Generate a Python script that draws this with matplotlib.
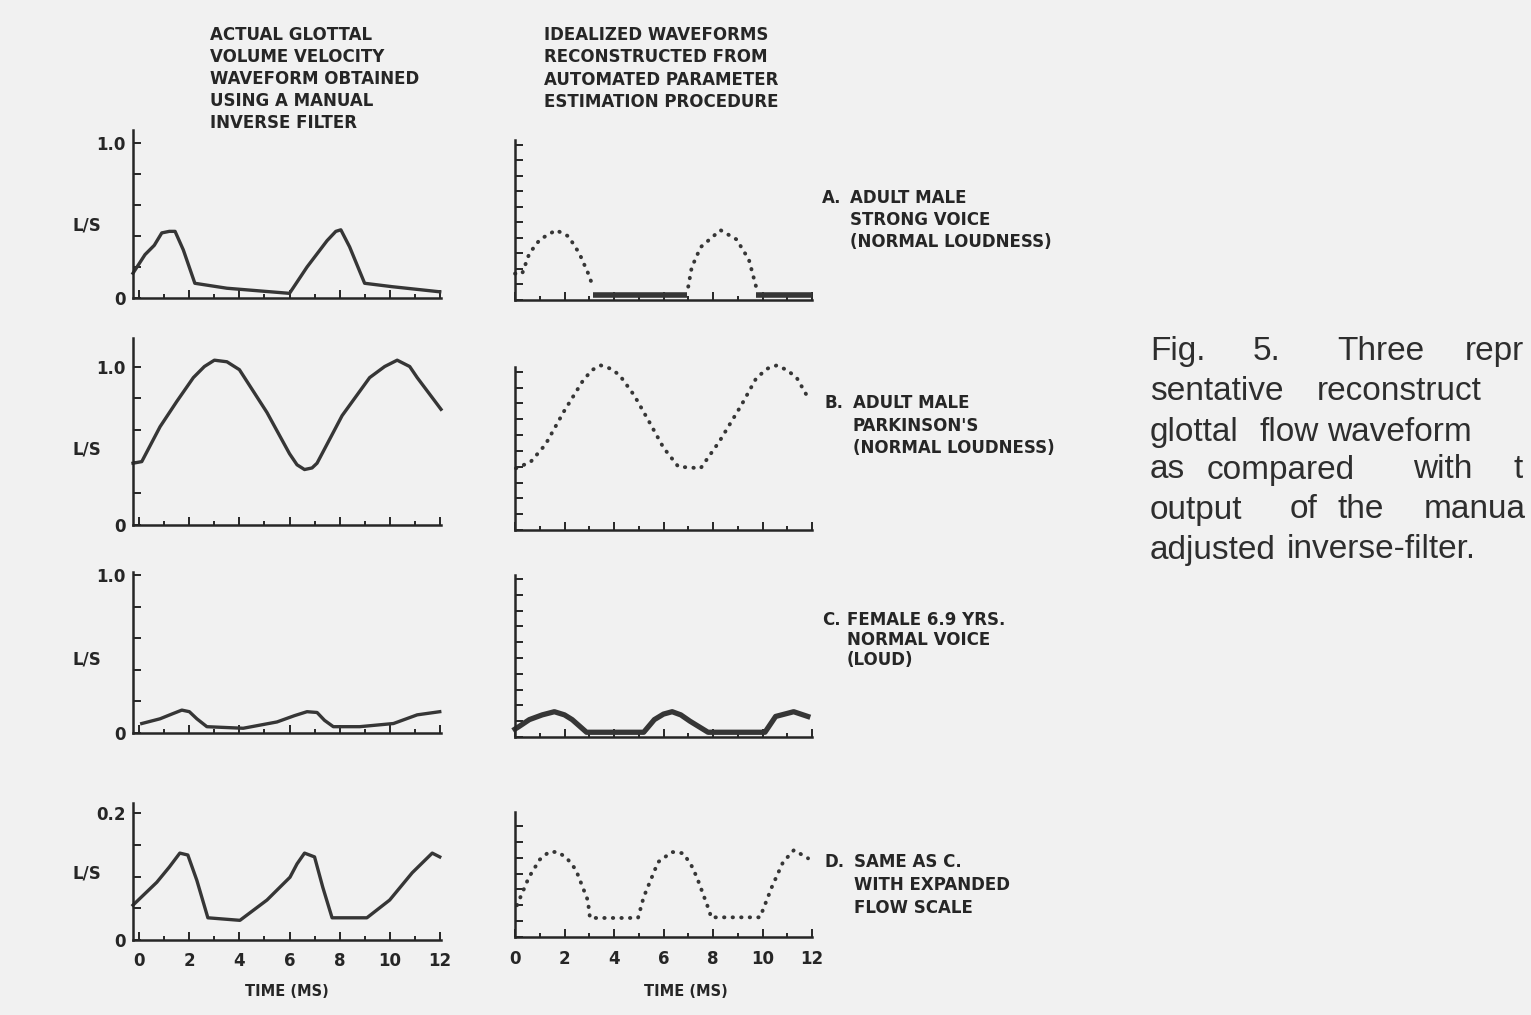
import matplotlib
matplotlib.use("Agg")
import matplotlib.pyplot as plt
from matplotlib.ticker import MultipleLocator, FixedLocator

W, H = 1531, 1015
BG = '#f1f1f1'
INK = '#262626'
CURVE = '#363636'

# ---------------- data ----------------
time_ticks = [0, 2, 4, 6, 8, 10, 12]
time_tick_labels = ['0', '2', '4', '6', '8', '10', '12']

# A. adult male, strong voice
a_manual_t = [-0.25, 0.23, 0.6, 0.9, 1.2, 1.43, 1.76, 2.22, 3.5, 6.0, 6.7, 7.5, 7.85, 8.05, 8.4, 9.0, 10.1, 12.0]
a_manual_v = [0.16, 0.28, 0.34, 0.42, 0.43, 0.43, 0.31, 0.095, 0.063, 0.03, 0.2, 0.37, 0.43, 0.44, 0.33, 0.095, 0.073, 0.04]
a_ideal1_t = [0.0, 0.29, 0.58, 1.01, 1.66, 2.16, 2.6, 2.96, 3.15]
a_ideal1_v = [0.17, 0.17, 0.30, 0.39, 0.45, 0.41, 0.30, 0.17, 0.086]
a_ideal2_t = [7.0, 7.14, 7.5, 8.3, 8.95, 9.45, 9.74]
a_ideal2_v = [0.086, 0.21, 0.34, 0.45, 0.39, 0.26, 0.086]
a_ideal_flat_t = [[3.15, 6.95], [9.75, 12.0]]
a_ideal_flat_v = 0.03

# B. adult male, Parkinson's
b_manual_t = [-0.25, 0.1, 0.83, 1.5, 2.16, 2.6, 3.0, 3.5, 4.0, 5.1, 6.0, 6.3, 6.6, 6.9, 7.1, 8.1, 9.2, 9.8, 10.3, 10.8, 11.1, 12.05]
b_manual_v = [0.39, 0.40, 0.62, 0.78, 0.93, 1.00, 1.04, 1.03, 0.98, 0.71, 0.45, 0.38, 0.35, 0.36, 0.39, 0.69, 0.93, 1.00, 1.04, 1.00, 0.93, 0.73]
b_ideal_t = [0.04, 0.63, 1.23, 1.98, 2.73, 3.1, 3.47, 3.85, 4.22, 4.82, 5.4, 6.0, 6.6, 7.5, 8.26, 9.15, 9.75, 10.2, 10.57, 11.0, 11.39, 11.9]
b_ideal_v = [0.39, 0.43, 0.54, 0.75, 0.94, 1.01, 1.04, 1.02, 0.98, 0.85, 0.69, 0.52, 0.40, 0.39, 0.56, 0.79, 0.96, 1.02, 1.04, 1.01, 0.96, 0.82]

# C. female 6.9 yrs, normal voice (loud)
c_manual_t = [0.1, 0.83, 1.3, 1.7, 2.0, 2.3, 2.7, 4.15, 5.5, 6.2, 6.7, 7.1, 7.4, 7.75, 8.8, 10.15, 11.1, 12.0]
c_manual_v = [0.06, 0.09, 0.12, 0.145, 0.135, 0.09, 0.04, 0.03, 0.07, 0.11, 0.135, 0.13, 0.08, 0.04, 0.04, 0.06, 0.115, 0.135]
c_ideal_t = [0.0, 0.15, 0.58, 1.1, 1.59, 2.0, 2.31, 2.89, 5.2, 5.63, 6.0, 6.35, 6.7, 7.07, 7.8, 10.1, 10.53, 11.26, 11.83]
c_ideal_v = [0.05, 0.065, 0.11, 0.14, 0.16, 0.14, 0.11, 0.03, 0.03, 0.11, 0.145, 0.16, 0.14, 0.10, 0.03, 0.03, 0.13, 0.16, 0.13]

# D. same as C with expanded flow scale
d_manual_t = [-0.25, 0.7, 1.2, 1.62, 1.94, 2.3, 2.74, 4.02, 5.1, 6.02, 6.3, 6.6, 7.0, 7.33, 7.7, 9.09, 10.0, 10.9, 11.7, 12.0]
d_manual_v = [0.055, 0.091, 0.115, 0.137, 0.134, 0.094, 0.035, 0.031, 0.063, 0.099, 0.12, 0.137, 0.131, 0.083, 0.035, 0.035, 0.063, 0.106, 0.137, 0.131]
d_ideal_t = [0.08, 0.56, 1.0, 1.37, 1.74, 2.1, 2.46, 2.94, 3.03, 4.97, 5.2, 5.78, 6.34, 6.79, 7.1, 7.35, 7.88, 7.9, 9.9, 10.38, 10.83, 11.27, 11.84]
d_ideal_v = [0.050, 0.094, 0.122, 0.134, 0.134, 0.124, 0.106, 0.058, 0.030, 0.030, 0.063, 0.118, 0.134, 0.132, 0.115, 0.094, 0.038, 0.031, 0.031, 0.079, 0.118, 0.137, 0.124]

left_title = ['ACTUAL GLOTTAL', 'VOLUME VELOCITY', 'WAVEFORM OBTAINED',
              'USING A MANUAL', 'INVERSE FILTER']
right_title = ['IDEALIZED WAVEFORMS', 'RECONSTRUCTED FROM',
               'AUTOMATED PARAMETER', 'ESTIMATION PROCEDURE']
panel_letters = ['A.', 'B.', 'C.', 'D.']
panel_labels = [['ADULT MALE', 'STRONG VOICE', '(NORMAL LOUDNESS)'],
                ['ADULT MALE', "PARKINSON'S", '(NORMAL LOUDNESS)'],
                ['FEMALE 6.9 YRS.', 'NORMAL VOICE', '(LOUD)'],
                ['SAME AS C.', 'WITH EXPANDED', 'FLOW SCALE']]
y_top_labels = ['1.0', '1.0', '1.0', '0.2']
caption_lines = [
    [('Fig.', 1150), ('5.', 1253), ('Three', 1337), ('repr', 1465)],
    [('sentative', 1150), ('reconstruct', 1317)],
    [('glottal', 1150), ('flow', 1260), ('waveform', 1327)],
    [('as', 1150), ('compared', 1207), ('with', 1413), ('t', 1514)],
    [('output', 1150), ('of', 1290), ('the', 1337), ('manua', 1424)],
    [('adjusted', 1150), ('inverse-filter.', 1287)],
]

# ---------------- figure ----------------
fig = plt.figure(figsize=(W / 100, H / 100), dpi=100, facecolor=BG)


def px_axes(x0, x1, ybot, ytop):
    ax = fig.add_axes([x0 / W, 1 - ybot / H, (x1 - x0) / W, (ybot - ytop) / H])
    ax.set_facecolor('none')
    for s in ('top', 'right'):
        ax.spines[s].set_visible(False)
    for s in ('left', 'bottom'):
        ax.spines[s].set_linewidth(1.8)
        ax.spines[s].set_color(INK)
    ax.xaxis.set_major_locator(FixedLocator(time_ticks))
    ax.xaxis.set_minor_locator(MultipleLocator(1))
    ax.tick_params(axis='both', which='both', direction='in', color=INK, width=1.4)
    ax.tick_params(axis='both', which='major', length=6)
    ax.tick_params(axis='both', which='minor', length=3)
    return ax


def ftext(px, py, s, **kw):
    fig.text(px / W, 1 - py / H, s, **kw)


TXT = dict(color=INK, fontweight='bold', fontsize=12, family='DejaVu Sans')

left_x = (133, 441, -0.25, 12.05)
right_x = (515, 812, 0.0, 12.0)
rows = [  # (left ybot, ytop, ymax), (right ybot, ytop, ymax)
    ((298, 130, 1.084), (300, 140, 1.03)),
    ((525, 338, 1.18), (530, 367, 1.03)),
    ((733, 572, 1.02), (737, 575, 1.025)),
    ((940, 803, 0.216), (937, 812, 0.197)),
]
manual = [(a_manual_t, a_manual_v), (b_manual_t, b_manual_v),
          (c_manual_t, c_manual_v), (d_manual_t, d_manual_v)]
ideal = [[(a_ideal1_t, a_ideal1_v), (a_ideal2_t, a_ideal2_v)],
         [(b_ideal_t, b_ideal_v)],
         [(c_ideal_t, c_ideal_v)],
         [(d_ideal_t, d_ideal_v)]]
ls_y = [225, 450, 659, 874]
label_y = [(198, 220, 242), (403, 426, 448), (620, 640, 660), (862, 885, 908)]
label_x = [(822, 850), (825, 853), (822, 847), (824, 854)]

DOT = dict(color=CURVE, lw=2.8, linestyle=(0, (0.1, 2.1)), dash_capstyle='round',
           clip_on=False)

for i, ((lb, lt, lmax), (rb, rt, rmax)) in enumerate(rows):
    # left panel (manual inverse filter)
    axl = px_axes(left_x[0], left_x[1], lb, lt)
    axl.set_xlim(left_x[2], left_x[3])
    axl.set_ylim(0, lmax)
    t, v = manual[i]
    axl.plot(t, v, color=CURVE, lw=2.4, clip_on=False, solid_joinstyle='round')
    top = 0.2 if i == 3 else 1.0
    step = 0.05 if i == 3 else 0.2
    n = int(round(top / step))
    yt = [k * step for k in range(n + 1)]
    axl.set_yticks(yt)
    axl.set_yticklabels(['0'] + [''] * (n - 1) + [y_top_labels[i]])
    for lab in axl.get_yticklabels():
        lab.set_fontweight('bold')
        lab.set_fontsize(12)
        lab.set_color(INK)
    axl.tick_params(axis='y', pad=5)
    ftext(87, ls_y[i], 'L/S', ha='center', va='center', **TXT)

    # right panel (idealized reconstruction)
    axr = px_axes(right_x[0], right_x[1], rb, rt)
    axr.set_xlim(right_x[2], right_x[3])
    axr.set_ylim(0, rmax)
    axr.yaxis.set_major_locator(MultipleLocator(0.025 if i == 3 else 0.1))
    axr.set_yticklabels([])
    for t, v in ideal[i]:
        if i == 2:
            axr.plot(t, v, color=CURVE, lw=3.8, clip_on=False, solid_joinstyle='round')
        else:
            axr.plot(t, v, **DOT)
    if i == 0:
        for seg in a_ideal_flat_t:
            axr.plot(seg, [a_ideal_flat_v, a_ideal_flat_v], color=CURVE, lw=4.0,
                     solid_capstyle='butt')

    for ax in (axl, axr):
        if i == 3:
            ax.set_xticklabels(time_tick_labels)
            ax.tick_params(axis='x', pad=9)
            for lab in ax.get_xticklabels():
                lab.set_fontweight('bold')
                lab.set_fontsize(12)
                lab.set_color(INK)
        else:
            ax.set_xticklabels([])

    # side labels
    lx, tx = label_x[i]
    ftext(lx, label_y[i][0], panel_letters[i], ha='left', va='center', **TXT)
    for line, yy in zip(panel_labels[i], label_y[i]):
        ftext(tx, yy, line, ha='left', va='center', **TXT)

ftext(287, 992, 'TIME (MS)', ha='center', va='center',
      **{**TXT, 'fontsize': 10.5})
ftext(686, 992, 'TIME (MS)', ha='center', va='center',
      **{**TXT, 'fontsize': 10.5})

for k, line in enumerate(left_title):
    ftext(210, 35 + k * 22, line, ha='left', va='center', **TXT)
for k, line in enumerate(right_title):
    ftext(544, 35 + k * 22.3, line, ha='left', va='center', **TXT)

cap_y = [352, 392, 432, 470, 510, 550]
for words, yy in zip(caption_lines, cap_y):
    for w, xx in words:
        ftext(xx, yy, w, ha='left', va='center', color='#2e2e2e',
              fontsize=24, family='Liberation Sans')

fig.savefig('out.png', dpi=100, facecolor=BG)
